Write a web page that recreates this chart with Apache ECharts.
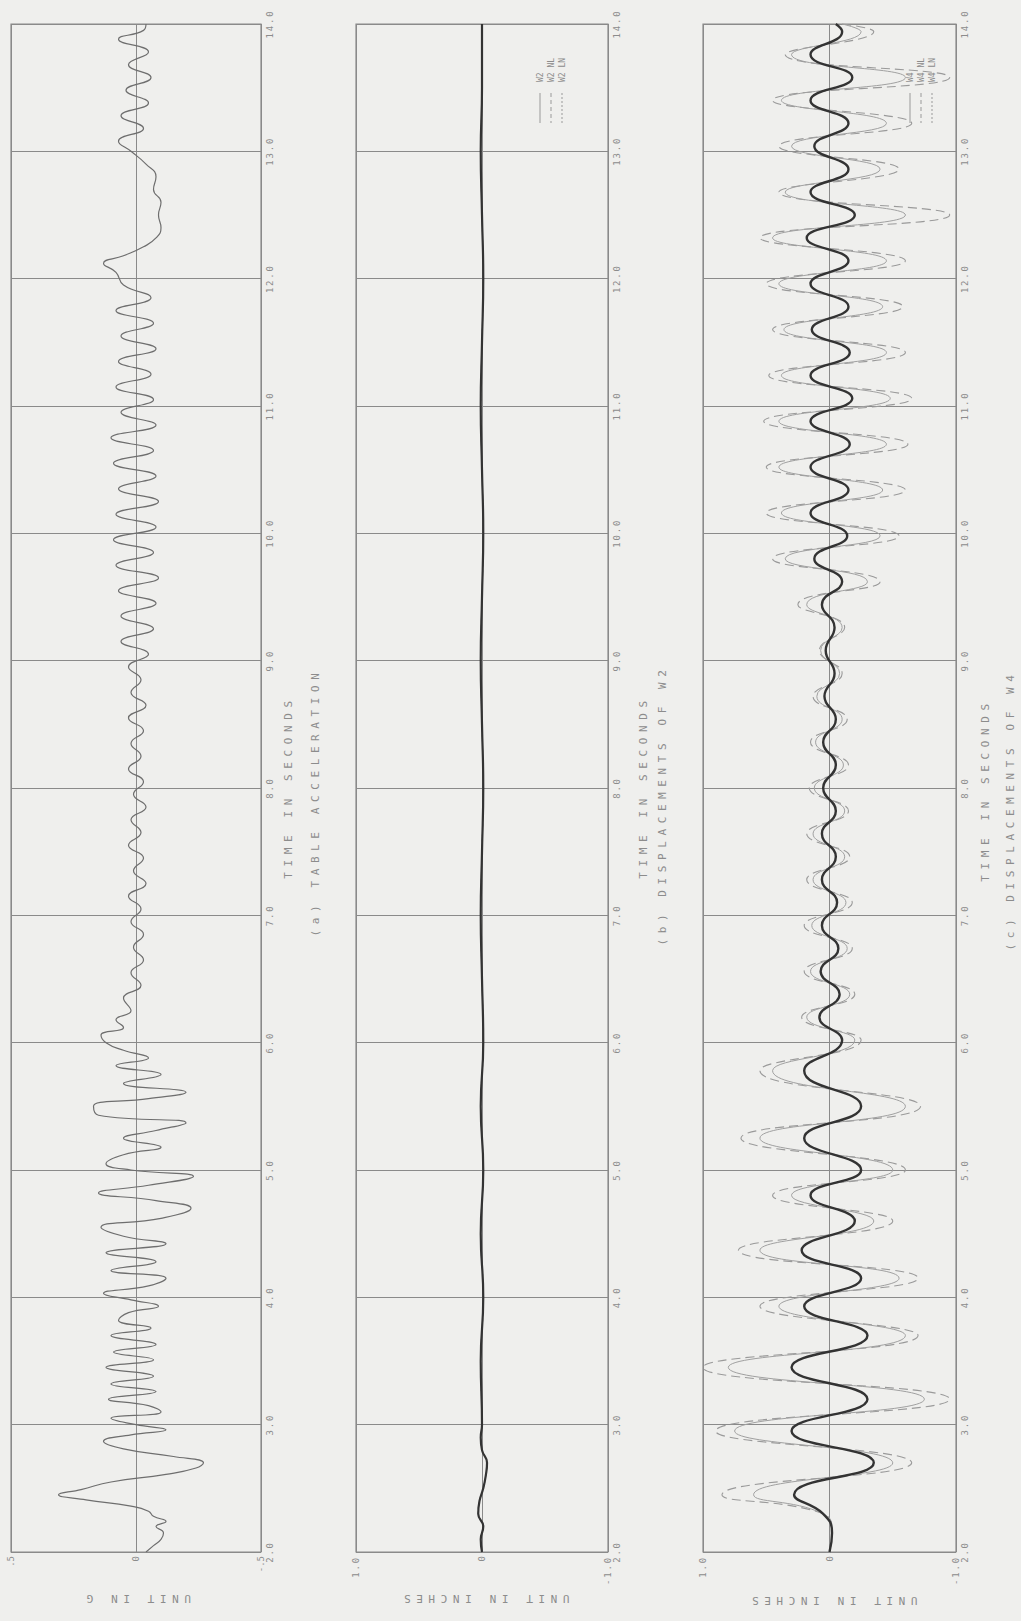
<!DOCTYPE html>
<html><head><meta charset="utf-8">
<script src="https://cdn.jsdelivr.net/npm/echarts@6/dist/echarts.min.js"></script>
<style>html,body{margin:0;padding:0;background:#efefed;}#c{width:1021px;height:1621px;}</style>
</head><body><div id="c"></div>
<script>
// ---------- DATA ----------
const timeTicks = [2,3,4,5,6,7,8,9,10,11,12,13,14];
const accTime = [2.00,2.05,2.10,2.15,2.20,2.24,2.28,2.32,2.36,2.41,2.45,2.49,2.55,2.61,2.66,2.70,2.75,2.81,2.87,2.92,2.96,3.00,3.05,3.10,3.15,3.20,3.26,3.32,3.38,3.45,3.51,3.57,3.63,3.70,3.76,3.82,3.88,3.93,3.98,4.03,4.09,4.15,4.21,4.28,4.35,4.42,4.48,4.55,4.62,4.70,4.76,4.82,4.88,4.95,5.00,5.05,5.12,5.18,5.25,5.31,5.37,5.43,5.50,5.56,5.61,5.68,5.75,5.82,5.88,5.94,6.00,6.06,6.12,6.18,6.25,6.35,6.45,6.55,6.65,6.75,6.85,6.95,7.05,7.15,7.25,7.35,7.45,7.55,7.65,7.75,7.85,7.95,8.05,8.15,8.25,8.35,8.45,8.55,8.65,8.75,8.85,8.95,9.05,9.15,9.25,9.35,9.45,9.55,9.65,9.75,9.85,9.95,10.05,10.15,10.25,10.35,10.45,10.55,10.65,10.75,10.85,10.95,11.05,11.15,11.25,11.35,11.45,11.55,11.65,11.75,11.85,11.95,12.05,12.12,12.18,12.25,12.32,12.40,12.50,12.60,12.70,12.80,12.90,13.00,13.08,13.18,13.28,13.38,13.48,13.58,13.68,13.78,13.88,13.95,14.00];
const accG = [-0.04,-0.07,-0.10,-0.11,-0.08,-0.12,-0.07,-0.05,0.02,0.20,0.31,0.22,0.10,-0.12,-0.24,-0.27,-0.15,0.05,0.13,0.02,-0.12,0.00,0.10,-0.10,-0.05,0.11,-0.08,0.10,-0.07,0.12,-0.07,0.09,-0.08,0.10,-0.06,0.07,0.03,-0.09,0.02,0.13,-0.05,-0.12,0.10,-0.08,0.12,-0.12,0.05,0.14,-0.10,-0.22,-0.08,0.15,-0.05,-0.23,0.02,0.12,0.05,-0.10,0.05,-0.08,-0.20,0.15,0.17,-0.05,-0.20,0.05,-0.10,0.08,-0.05,0.05,0.12,0.14,0.05,0.08,0.02,0.05,-0.02,0.02,-0.03,0.01,-0.03,0.02,-0.02,0.03,-0.04,0.01,-0.03,0.03,-0.02,0.02,-0.04,0.01,-0.03,0.03,-0.02,0.02,-0.03,0.03,-0.04,0.02,-0.02,0.03,-0.05,0.06,-0.07,0.06,-0.08,0.07,-0.09,0.08,-0.07,0.09,-0.08,0.08,-0.09,0.07,-0.08,0.09,-0.07,0.10,-0.08,0.06,-0.07,0.08,-0.06,0.07,-0.08,0.06,-0.07,0.08,-0.06,0.05,0.08,0.13,0.05,-0.03,-0.08,-0.10,-0.09,-0.10,-0.07,-0.08,-0.04,0.02,0.07,-0.03,0.06,-0.05,0.04,-0.06,0.03,-0.05,0.07,-0.03,-0.04];

const w2Time = [2.0,2.1,2.2,2.3,2.4,2.5,2.6,2.7,2.8,2.9,3.0,3.5,4.0,4.5,5.0,5.5,6.0,6.5,7.0,7.5,8.0,8.5,9.0,9.5,10.0,10.5,11.0,11.5,12.0,12.5,13.0,13.5,14.0];
const w2A = [0.00,0.01,-0.01,0.03,0.02,-0.01,-0.03,-0.04,0.00,0.01,0.00,0.01,-0.01,0.01,-0.01,0.01,-0.01,0.00,0.01,0.00,-0.01,0.00,0.01,0.00,-0.01,0.00,0.01,0.00,-0.01,0.00,0.01,0.00,0.00];
const w2B = [0.00,0.01,-0.01,0.03,0.02,-0.01,-0.03,-0.04,0.00,0.01,0.00,0.01,-0.01,0.01,-0.01,0.01,-0.01,0.00,0.01,0.00,-0.01,0.00,0.01,0.00,-0.01,0.00,0.01,0.00,-0.01,0.00,0.01,0.00,0.00];
const w2C = [0.00,0.01,-0.01,0.03,0.02,-0.01,-0.03,-0.04,0.00,0.01,0.00,0.01,-0.01,0.01,-0.01,0.01,-0.01,0.00,0.01,0.00,-0.01,0.00,0.01,0.00,-0.01,0.00,0.01,0.00,-0.01,0.00,0.01,0.00,0.00];

const w4Time = [2.0,2.15,2.3,2.45,2.7,2.95,3.2,3.45,3.7,3.93,4.15,4.37,4.6,4.8,5.0,5.25,5.5,5.78,6.02,6.20,6.38,6.56,6.74,6.92,7.10,7.28,7.46,7.64,7.82,8.00,8.18,8.36,8.54,8.72,8.90,9.08,9.26,9.44,9.62,9.80,9.98,10.16,10.34,10.52,10.70,10.88,11.06,11.24,11.42,11.60,11.78,11.96,12.14,12.32,12.50,12.68,12.86,13.04,13.22,13.40,13.58,13.76,13.94,14.0];
const w4Heavy = [0,-0.02,0.05,0.28,-0.35,0.3,-0.3,0.3,-0.3,0.2,-0.25,0.22,-0.2,0.15,-0.25,0.2,-0.25,0.2,-0.1,0.08,-0.08,0.07,-0.07,0.06,-0.06,0.06,-0.05,0.06,-0.05,0.05,-0.05,0.05,-0.05,0.04,-0.04,0.03,-0.04,0.06,-0.1,0.12,-0.14,0.15,-0.15,0.15,-0.16,0.15,-0.18,0.15,-0.16,0.14,-0.15,0.15,-0.15,0.18,-0.2,0.15,-0.15,0.12,-0.15,0.15,-0.18,0.15,-0.1,-0.05];
const w4Thin = [0,-0.02,0.05,0.6,-0.5,0.75,-0.75,0.8,-0.6,0.4,-0.55,0.55,-0.35,0.3,-0.5,0.55,-0.6,0.45,-0.2,0.18,-0.16,0.15,-0.14,0.14,-0.13,0.13,-0.12,0.13,-0.12,0.12,-0.11,0.11,-0.1,0.1,-0.08,0.07,-0.1,0.18,-0.3,0.35,-0.4,0.38,-0.42,0.4,-0.45,0.4,-0.48,0.38,-0.45,0.36,-0.42,0.4,-0.45,0.45,-0.6,0.35,-0.4,0.3,-0.45,0.38,-0.6,0.3,-0.25,-0.1];
const w4Dash = [0,-0.02,0.05,0.85,-0.65,0.9,-0.95,1.0,-0.7,0.55,-0.7,0.72,-0.5,0.45,-0.6,0.7,-0.72,0.55,-0.25,0.22,-0.2,0.2,-0.18,0.2,-0.18,0.18,-0.16,0.18,-0.15,0.16,-0.15,0.15,-0.14,0.13,-0.1,0.08,-0.12,0.25,-0.4,0.45,-0.55,0.5,-0.6,0.5,-0.62,0.52,-0.65,0.48,-0.6,0.45,-0.58,0.5,-0.6,0.55,-0.95,0.4,-0.55,0.4,-0.65,0.45,-0.95,0.35,-0.35,-0.1];

const legendNames = ['W2', 'W2 NL', 'W2 LN'];
const legendNames4 = ['W4', 'W4 NL', 'W4 LN'];

// ---------- CHART ----------
const pairs = (vals, ts) => vals.map((v, i) => [v, ts[i]]);
const chart = echarts.init(document.getElementById('c'), null, {renderer: 'svg', width: 1021, height: 1621});
const grey = '#8c8c8c';
const font = 'DejaVu Sans Mono';
const panels = [
  {left: 11, right: 760, max: 0.5, lab: {'0.5': '.5', '0': '0', '-0.5': '-.5'}},
  {left: 356, right: 413, max: 1, lab: {'1': '1.0', '0': '0', '-1': '-1.0'}},
  {left: 703, right: 65, max: 1, lab: {'1': '1.0', '0': '0', '-1': '-1.0'}}
];
const grids = [], xAxes = [], yAxes = [];
panels.forEach((p, i) => {
  grids.push({left: p.left, right: p.right, top: 24, bottom: 69, show: true, borderColor: '#8a8a8a', borderWidth: 1.2, backgroundColor: 'transparent'});
  xAxes.push({type: 'value', gridIndex: i, inverse: true, min: -p.max, max: p.max, interval: p.max,
    axisLine: {show: false}, axisTick: {show: false},
    splitLine: {show: true, lineStyle: {color: '#8a8a8a', width: 1}},
    axisLabel: {rotate: 90, margin: 4, color: grey, fontFamily: font, fontSize: 9,
      formatter: v => p.lab[String(v)] !== undefined ? p.lab[String(v)] : ''}});
  yAxes.push({type: 'value', gridIndex: i, position: 'right', min: 2, max: 14, interval: 1,
    axisLine: {show: false}, axisTick: {show: false},
    splitLine: {show: true, lineStyle: {color: '#8a8a8a', width: 1}},
    axisLabel: {rotate: 90, margin: 4, color: grey, fontFamily: font, fontSize: 9, formatter: v => v.toFixed(1)}});
});
const ln = (name, xi, data, color, width, type) => ({name, type: 'line', xAxisIndex: xi, yAxisIndex: xi, data, smooth: 0.5, showSymbol: false, symbol: 'none',
  lineStyle: {color, width, type}, silent: true});
const series = [
  ln('accel', 0, pairs(accG, accTime), '#6e6e6e', 1.2, 'solid'),
  ln(legendNames[2], 1, pairs(w2C, w2Time), '#9a9a9a', 1, [2, 3]),
  ln(legendNames[1], 1, pairs(w2B, w2Time), '#9a9a9a', 1, [7, 4]),
  ln(legendNames[0], 1, pairs(w2A, w2Time), '#333', 2.2, 'solid'),
  ln(legendNames4[1], 2, pairs(w4Dash, w4Time), '#9a9a9a', 1.1, [9, 5]),
  ln(legendNames4[2], 2, pairs(w4Thin, w4Time), '#a0a0a0', 1, 'solid'),
  ln(legendNames4[0], 2, pairs(w4Heavy, w4Time), '#333', 2.4, 'solid')
];
const txt = (text, x, y, rot, size) => ({type: 'text', x, y, rotation: rot, silent: true,
  style: {text, fill: grey, font: size + 'px "' + font + '"', textAlign: 'center', textVerticalAlign: 'middle'}});
const legendLines = (x0, names, styles) => {
  const els = [];
  styles.forEach((s, k) => {
    const x = x0 + k * 11;
    els.push({type: 'line', silent: true, shape: {x1: x, y1: 93, x2: x, y2: 123}, style: {stroke: '#999', lineWidth: 1, lineDash: s}});
    els.push({type: 'text', x: x, y: 82, rotation: Math.PI / 2, silent: true,
      style: {text: names[k], fill: grey, font: '8px "' + font + '"', textAlign: 'left', textVerticalAlign: 'middle'}});
  });
  return els;
};
const graphic = [
  txt('TIME IN SECONDS', 288, 787, Math.PI / 2, 11),
  txt('(a) TABLE ACCELERATION', 315, 802, Math.PI / 2, 11),
  txt('TIME IN SECONDS', 643, 787, Math.PI / 2, 11),
  txt('(b) DISPLACEMENTS OF W2', 662, 805, Math.PI / 2, 11),
  txt('TIME IN SECONDS', 985, 790, Math.PI / 2, 11),
  txt('(c) DISPLACEMENTS OF W4', 1010, 810, Math.PI / 2, 11),
  txt('UNIT IN G', 136, 1598, Math.PI, 11),
  txt('UNIT IN INCHES', 484, 1598, Math.PI, 11),
  txt('UNIT IN INCHES', 832, 1600, Math.PI, 11)
].concat(legendLines(540, legendNames, [null, [4, 3], [2, 2]]), legendLines(910, legendNames4, [null, [4, 3], [2, 2]]));

chart.setOption({animation: false, backgroundColor: '#efefed', grid: grids, xAxis: xAxes, yAxis: yAxes, series, graphic});

function spaceText() {
  document.querySelectorAll('svg text').forEach(t => {
    const s = t.textContent || '';
    if (s.length > 6) t.setAttribute('letter-spacing', '5.6');
    else if (s.length >= 3 && /\d\.\d/.test(s)) t.setAttribute('letter-spacing', '1.8');
  });
}
chart.on('finished', spaceText);
setTimeout(spaceText, 50);
</script></body></html>
